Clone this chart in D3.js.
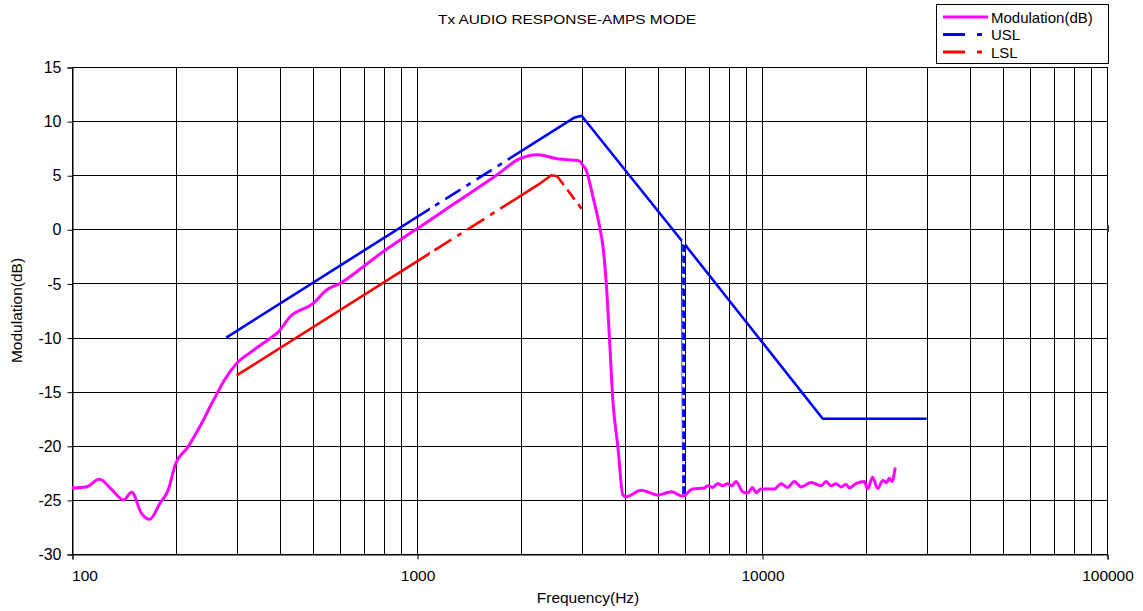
<!DOCTYPE html>
<html>
<head>
<meta charset="utf-8">
<script src="https://cdn.jsdelivr.net/npm/d3@7"></script>
<style>
  html, body { margin: 0; padding: 0; background: #fff; }
  svg { display: block; font-family: Arial, "Liberation Sans", sans-serif; }
</style>
</head>
<body>
<svg id="chart" width="1143" height="611"></svg>
<script>
// ---------- data ----------
const modFreq = [100, 110, 120, 130, 141, 149, 159, 168, 180, 190, 199, 217, 235, 257, 277, 300, 335, 370, 396, 428, 500, 547, 598, 698, 797, 891, 995, 1300, 1700, 1980, 2240, 2530, 2800, 2944, 3027, 3090, 3236, 3383, 3460, 3537, 3615, 3696, 3822, 3953, 4040, 4467, 4990, 5458, 5888, 6295, 6808, 6966, 7194, 7447, 7690, 7950, 8180, 8407, 8790, 9090, 9400, 9610, 9935, 10860, 11360, 11870, 12410, 12980, 13870, 14830, 15330, 15850, 16390, 16950, 17520, 17910, 18720, 19800, 20230, 20920, 21640, 22390, 22980, 23380, 23810, 24330];
const modDb   = [-23.9, -23.8, -23.1, -24.0, -25.0, -24.3, -26.25, -26.8, -25.3, -24.1, -21.8, -20.1, -18.2, -15.8, -13.9, -12.4, -11.2, -10.2, -9.5, -8.1, -6.85, -5.6, -5.0, -3.46, -2.07, -1.0, 0.0, 2.5, 5.0, 6.5, 6.9, 6.55, 6.4, 6.35, 5.9, 5.5, 3.0, 0.24, -1.6, -5.0, -10.2, -15.8, -20.1, -24.56, -24.7, -24.1, -24.55, -24.25, -24.65, -24.0, -23.9, -23.7, -23.85, -23.5, -23.7, -23.5, -23.7, -23.3, -24.25, -24.35, -23.85, -24.35, -24.0, -24.0, -23.5, -23.85, -23.3, -23.8, -23.4, -23.7, -23.3, -23.7, -23.5, -23.8, -23.55, -23.9, -23.5, -23.3, -24.0, -22.9, -23.95, -23.2, -23.4, -23.0, -23.3, -22.0];

const uslFreq = [280, 2850, 3000, 5870, 5920, 5960, 6080, 15000, 30000];
const uslDb   = [-10.0, 10.3, 10.5, -1.1, -24.6, -1.3, -1.7, -17.5, -17.5];

const lslFreq = [300, 2240, 2450, 2550, 3000];
const lslDb   = [-13.5, 4.1, 5.0, 4.9, 1.9];

const yTickValues = [-30, -25, -20, -15, -10, -5, 0, 5, 10, 15];
const xTickLabels = [100, 1000, 10000, 100000];

const titleText = "Tx AUDIO RESPONSE-AMPS MODE";
const xTitle = "Frequency(Hz)";
const yTitle = "Modulation(dB)";
const seriesNames = ["Modulation(dB)", "USL", "LSL"];
const seriesColors = ["#FF00FF", "#0000FF", "#FF0000"];

// ---------- layout ----------
const svg = d3.select("#chart");
const plot = { left: 72, right: 1107, top: 67, bottom: 554 };

const x = d3.scaleLog().domain([100, 100000]).range([plot.left, plot.right]);
const y = d3.scaleLinear().domain([-30, 15]).range([plot.bottom, plot.top]);

// grid: vertical log lines
const gridX = [];
for (let dec = 100; dec < 100000; dec *= 10) {
  for (let m = 1; m <= 9; m++) gridX.push(dec * m);
}
gridX.push(100000);

const g = svg.append("g");
g.selectAll("line.vgrid").data(gridX).enter().append("line")
  .attr("class", "vgrid")
  .attr("x1", d => Math.round(x(d)) + 0.5).attr("x2", d => Math.round(x(d)) + 0.5)
  .attr("y1", plot.top).attr("y2", plot.bottom)
  .attr("stroke", "#000").attr("stroke-width", 1);

g.selectAll("line.hgrid").data(yTickValues).enter().append("line")
  .attr("class", "hgrid")
  .attr("x1", plot.left).attr("x2", plot.right + 1)
  .attr("y1", d => Math.round(y(d)) + 0.5).attr("y2", d => Math.round(y(d)) + 0.5)
  .attr("stroke", "#000").attr("stroke-width", 1);

// y axis
const yAxis = d3.axisLeft(y).tickValues(yTickValues).tickFormat(d => String(d)).tickSize(5).tickPadding(6);
const yg = svg.append("g").attr("transform", `translate(${plot.left + 0.5},0.5)`).call(yAxis);
yg.select(".domain").attr("stroke", "#000");
yg.selectAll("text").attr("font-size", 16).attr("fill", "#000")
  .attr("font-family", "Arial, 'Liberation Sans', sans-serif");

// x axis
const xAxis = d3.axisBottom(x).tickValues(xTickLabels).tickFormat(d => String(d)).tickSize(5).tickPadding(10);
const xg = svg.append("g").attr("transform", `translate(0.5,${plot.bottom + 0.5})`).call(xAxis);
xg.select(".domain").attr("stroke", "#000");
xg.selectAll("text").attr("font-size", 15.5).attr("fill", "#000")
  .attr("font-family", "Arial, 'Liberation Sans', sans-serif")
  .attr("dx", d => d === 100 ? 12 : 0);

// small mark on right edge at 0 dB
svg.append("line")
  .attr("x1", plot.right + 1).attr("x2", plot.right + 1)
  .attr("y1", y(0) - 4).attr("y2", y(0) + 3)
  .attr("stroke", "#333").attr("stroke-width", 2);

// titles
svg.append("text").attr("x", 567).attr("y", 24).attr("text-anchor", "middle")
  .attr("font-size", 13.5).attr("textLength", 258).attr("lengthAdjust", "spacingAndGlyphs")
  .text(titleText);
svg.append("text").attr("x", 588).attr("y", 603).attr("text-anchor", "middle")
  .attr("font-size", 15.5).text(xTitle);
svg.append("text").attr("transform", `translate(22,${(plot.top + plot.bottom) / 2}) rotate(-90)`)
  .attr("text-anchor", "middle").attr("font-size", 15.5).text(yTitle);

// ---------- series ----------
const defs = svg.append("defs");
let clipId = 0;
function clipFor(ranges) {
  const id = "clip" + (clipId++);
  const cp = defs.append("clipPath").attr("id", id);
  ranges.forEach(r => {
    cp.append("rect").attr("x", x(r[0])).attr("y", 0)
      .attr("width", x(r[1]) - x(r[0])).attr("height", 611);
  });
  return "url(#" + id + ")";
}

const lineGen = d3.line().x(d => x(d[0])).y(d => y(d[1]));

function drawLimit(freq, db, color, solidRanges, dashRanges) {
  const pts = freq.map((f, i) => [f, db[i]]);
  svg.append("path").datum(pts).attr("d", lineGen)
    .attr("fill", "none").attr("stroke", color).attr("stroke-width", 2.6)
    .attr("stroke-linejoin", "round")
    .attr("clip-path", clipFor(solidRanges));
  dashRanges.forEach(r => {
    svg.append("path").datum(pts).attr("d", lineGen)
      .attr("fill", "none").attr("stroke", color).attr("stroke-width", r[3] || 2.6)
      .attr("stroke-dasharray", r[2])
      .attr("clip-path", clipFor([[r[0], r[1]]]));
  });
}

// Modulation (smooth)
const modPts = modFreq.map((f, i) => [f, modDb[i]]);
svg.append("path").datum(modPts)
  .attr("d", d3.line().x(d => x(d[0])).y(d => y(d[1])).curve(d3.curveMonotoneX))
  .attr("fill", "none").attr("stroke", seriesColors[0]).attr("stroke-width", 3)
  .attr("stroke-linejoin", "round");

// USL
drawLimit(uslFreq, uslDb, seriesColors[1],
  [[100, 1090], [1950, 5870], [6000, 100000]],
  [[1090, 1950, "18,7,5,7"], [5870, 6000, "7,4", 3]]);

// LSL
drawLimit(lslFreq, lslDb, seriesColors[2],
  [[100, 1090], [1950, 2580]],
  [[1090, 1950, "20,7,5,7"], [2580, 3100, "12,6"]]);

// ---------- legend ----------
const lg = svg.append("g");
lg.append("rect").attr("x", 936.5).attr("y", 4.5).attr("width", 172).attr("height", 59)
  .attr("fill", "#fff").attr("stroke", "#000").attr("stroke-width", 1);
const legendDash = [null, "22,12,5,12", "22,12,5,12"];
seriesNames.forEach((name, i) => {
  const yy = 17 + i * 17.5;
  lg.append("line").attr("x1", 943).attr("x2", 988).attr("y1", yy).attr("y2", yy)
    .attr("stroke", seriesColors[i]).attr("stroke-width", 3)
    .attr("stroke-dasharray", legendDash[i]);
  lg.append("text").attr("x", 991).attr("y", yy + 5.5).attr("font-size", 15).text(name);
});
</script>
</body>
</html>
